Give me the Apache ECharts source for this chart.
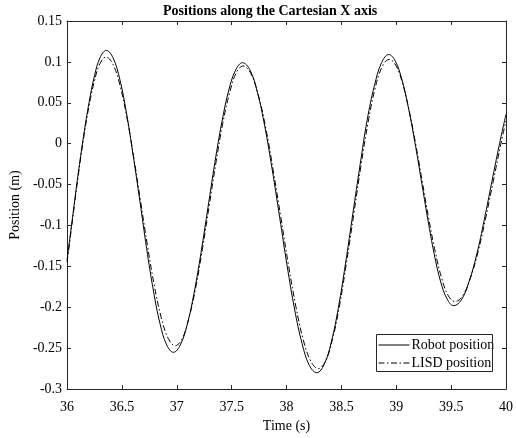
<!DOCTYPE html>
<html>
<head>
<meta charset="utf-8">
<script src="https://cdn.jsdelivr.net/npm/echarts@6/dist/echarts.min.js"></script>
<style>html,body{margin:0;padding:0;background:#fff;}#c{width:516px;height:438px;}</style>
</head>
<body>
<div id="c"></div>
<script>
const titleText = 'Positions along the Cartesian X axis';
const xName = 'Time (s)';
const yName = 'Position (m)';
const seriesNames = ['Robot position', 'LISD position'];
const xMin = 36, xMax = 40, xStep = 0.5;
const yMin = -0.3, yMax = 0.15, yStep = 0.05;

const robotT = [36.000,36.050,36.100,36.150,36.200,36.250,36.300,36.358,
  36.419,36.480,36.541,36.602,36.664,36.725,36.786,36.847,36.908,36.969,
  37.032,37.095,37.158,37.221,37.284,37.347,37.410,37.473,37.536,37.599,
  37.667,37.734,37.802,37.870,37.938,38.005,38.073,38.141,38.208,38.276,
  38.342,38.407,38.473,38.538,38.604,38.670,38.735,38.801,38.866,38.932,
  38.991,39.050,39.109,39.168,39.228,39.287,39.346,39.405,39.464,39.523,
  39.593,39.662,39.732,39.802,39.871,39.941,40.000];
const robotY = [-0.142,-0.090,-0.038,0.009,0.050,0.083,0.105,0.114,
  0.105,0.079,0.038,-0.014,-0.0705,-0.128,-0.179,-0.220,-0.246,-0.255,
  -0.246,-0.221,-0.182,-0.133,-0.078,-0.023,0.026,0.065,0.090,0.099,
  0.090,0.063,0.021,-0.032,-0.0905,-0.149,-0.202,-0.244,-0.271,-0.280,
  -0.270,-0.243,-0.200,-0.146,-0.0857,-0.026,0.029,0.071,0.099,0.109,
  0.101,0.079,0.045,0.003,-0.0447,-0.092,-0.135,-0.169,-0.190,-0.198,
  -0.191,-0.169,-0.136,-0.093,-0.0465,0.000,0.036];

const lisdT = [36.000,36.050,36.100,36.150,36.200,36.250,36.300,36.355,
  36.418,36.481,36.544,36.607,36.670,36.733,36.796,36.859,36.922,36.985,
  37.047,37.109,37.171,37.233,37.295,37.357,37.419,37.481,37.543,37.605,
  37.674,37.742,37.811,37.879,37.948,38.016,38.085,38.153,38.222,38.290,
  38.355,38.419,38.484,38.548,38.613,38.677,38.742,38.806,38.871,38.935,
  38.995,39.055,39.115,39.175,39.235,39.295,39.355,39.415,39.475,39.535,
  39.605,39.674,39.744,39.813,39.883,39.952,40.000];
const lisdY = [-0.145,-0.093,-0.041,0.006,0.046,0.077,0.098,0.106,
  0.097,0.072,0.033,-0.016,-0.0705,-0.125,-0.174,-0.213,-0.238,-0.247,
  -0.239,-0.214,-0.177,-0.129,-0.076,-0.023,0.025,0.062,0.087,0.095,
  0.086,0.060,0.019,-0.033,-0.090,-0.147,-0.199,-0.240,-0.266,-0.275,
  -0.266,-0.239,-0.197,-0.144,-0.086,-0.028,0.025,0.067,0.094,0.103,
  0.096,0.075,0.042,0.001,-0.045,-0.091,-0.132,-0.165,-0.186,-0.193,
  -0.186,-0.165,-0.133,-0.092,-0.0465,-0.001,0.028];

const zip = (a, b) => a.map((v, i) => [v, b[i]]);
const FONT = '"Liberation Serif", "Times New Roman", serif';
const AX = '#262626';

function fmt(v) {
  return String(Math.round(v * 1000) / 1000);
}

function xAxis(pos, labels) {
  return {
    type: 'value', position: pos, min: xMin, max: xMax, interval: xStep,
    name: labels ? xName : '', nameLocation: 'middle', nameGap: 18,
    nameTextStyle: {fontFamily: FONT, fontSize: 14, color: '#000'},
    axisLine: {show: true, onZero: false, lineStyle: {color: AX, width: 1}},
    axisTick: {show: true, inside: true, length: 4, lineStyle: {color: AX}},
    axisLabel: {show: labels, margin: 11, fontFamily: FONT, fontSize: 14, color: '#000', formatter: fmt},
    splitLine: {show: false}
  };
}
function yAxis(pos, labels) {
  return {
    type: 'value', position: pos, min: yMin, max: yMax, interval: yStep,
    name: labels ? yName : '', nameLocation: 'middle', nameGap: 41,
    nameTextStyle: {fontFamily: FONT, fontSize: 14, color: '#000'},
    axisLine: {show: true, onZero: false, lineStyle: {color: AX, width: 1}},
    axisTick: {show: true, inside: true, length: 4, lineStyle: {color: AX}},
    axisLabel: {show: labels, margin: 5, fontFamily: FONT, fontSize: 14, color: '#000', formatter: fmt},
    splitLine: {show: false}
  };
}

const chart = echarts.init(document.getElementById('c'));
chart.setOption({
  backgroundColor: '#fff',
  animation: false,
  title: {
    text: titleText, left: 163, top: 4, padding: 0,
    textStyle: {fontFamily: FONT, fontSize: 14, fontWeight: 'bold', color: '#000'}
  },
  grid: {left: 64, right: 5, top: 21, bottom: 44, containLabel: false},
  xAxis: [xAxis('bottom', true), xAxis('top', false)],
  yAxis: [yAxis('left', true), yAxis('right', false)],
  legend: {
    orient: 'vertical', left: 376, top: 334, padding: [4, 2, 2, 2],
    itemWidth: 31, itemHeight: 13, itemGap: 4,
    itemStyle: {opacity: 0},
    lineStyle: {width: 1},
    textStyle: {fontFamily: FONT, fontSize: 14, color: '#000', padding: [0, 0, 0, -3]},
    data: seriesNames
  },
  graphic: [{
    type: 'rect', shape: {x: 376.5, y: 334.5, width: 116, height: 37},
    style: {fill: 'none', stroke: '#262626', lineWidth: 1}, z: 100
  }],
  series: [
    {
      name: seriesNames[0], type: 'line', data: zip(robotT, robotY),
      showSymbol: false, symbol: 'none', smooth: 0.4,
      lineStyle: {color: '#000', width: 1, type: 'solid'}, itemStyle: {color: '#000'}
    },
    {
      name: seriesNames[1], type: 'line', data: zip(lisdT, lisdY),
      showSymbol: false, symbol: 'none', smooth: 0.4,
      lineStyle: {color: '#000', width: 1, type: [6, 2.5, 1.5, 2.5]}, itemStyle: {color: '#000'}
    }
  ]
});
</script>
</body>
</html>
